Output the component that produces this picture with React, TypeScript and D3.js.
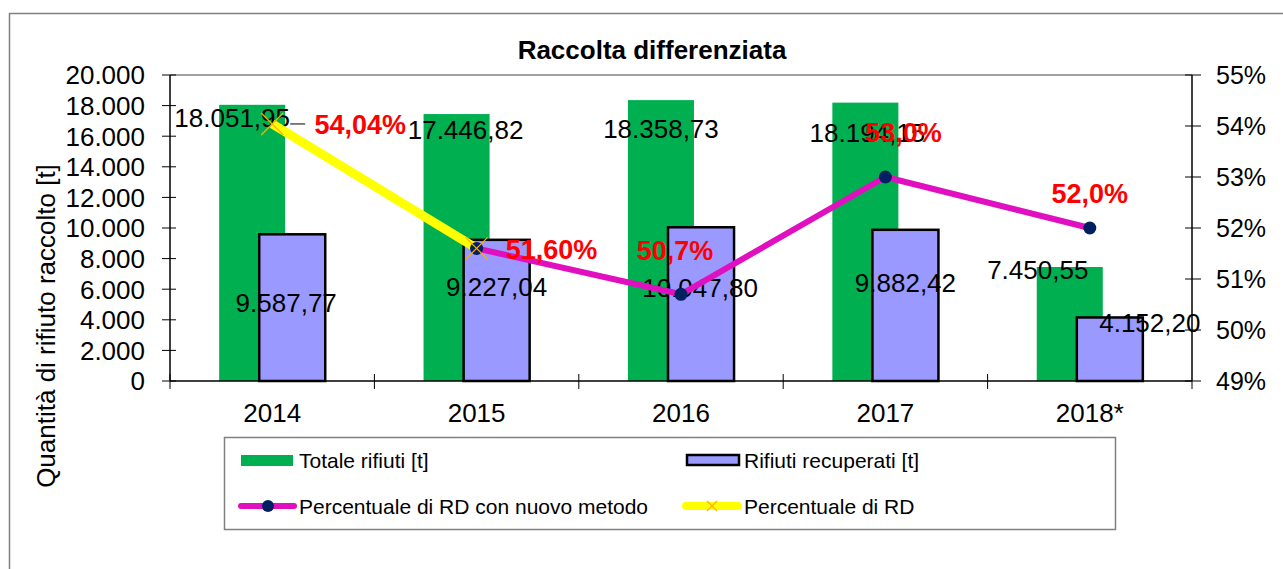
import React from 'react';
import * as d3 from 'd3';

// dati
const years = ['2014', '2015', '2016', '2017', '2018*'];
const totaleRifiuti = [18051.95, 17446.82, 18358.73, 18194.15, 7450.55];
const rifiutiRecuperati = [9587.77, 9227.04, 10047.8, 9882.42, 4152.2];
const percNuovoMetodo = [null, 51.6, 50.7, 53.0, 52.0];
const percRD = [54.04, 51.6, null, null, null];
const percLabels = ['54,04%', '51,60%', '50,7%', '53,0%', '52,0%'];
const leftTicks = [0, 2000, 4000, 6000, 8000, 10000, 12000, 14000, 16000, 18000, 20000];
const rightTicks = [49, 50, 51, 52, 53, 54, 55];

// spostamenti manuali delle etichette (come nell'originale)
const totNudge = [[-20, 13], [9, 16], [0, 29], [2, 30], [-32, 3]];
const recNudge = [[-6, 68], [0, 47], [-1, 60], [0, 53], [40, 5]];
const pctNudge = [[88, 0], [75, 1], [-6, -44], [18, -45], [0, -35]];

const it = d3.formatLocale({ decimal: ',', thousands: '.', grouping: [3], currency: ['', '€'] });
const fmtTick = it.format(',.0f');
const fmtVal = it.format(',.2f');

const FONT = '"Liberation Sans", Arial, sans-serif';
const GREEN = '#00B050';
const PURPLE = '#9999FF';
const MAGENTA = '#E010C0';
const NAVY = '#002060';
const YELLOW = '#FFFF00';
const ORANGE = '#FFB000';

const App = () => {
  const W = 1283, H = 569;
  const left = 170, right = 1192, top = 75, bottom = 381;

  const x = d3.scaleBand().domain(years).range([left, right]);
  const bw = x.bandwidth();
  const y = d3.scaleLinear().domain([0, 20000]).range([bottom, top]);
  const yR = d3.scaleLinear().domain([49, 55]).range([bottom, top]);

  const barW = bw * 0.323;
  const off = bw * 0.098;
  const cx = (i: number) => (x(years[i]) || 0) + bw / 2;

  const line = d3.line<[number, number | null]>()
    .defined(d => d[1] != null)
    .x(d => cx(d[0]))
    .y(d => yR(d[1] as number));

  const newPts = percNuovoMetodo.map((v, i) => [i, v] as [number, number | null]);
  const oldPts = percRD.map((v, i) => [i, v] as [number, number | null]);

  const xMark = (px: number, py: number, s: number, key: string) => (
    <g key={key} stroke={ORANGE} strokeWidth={1.2}>
      <line x1={px - s} y1={py - s} x2={px + s} y2={py + s} />
      <line x1={px - s} y1={py + s} x2={px + s} y2={py - s} />
    </g>
  );

  return (
    <div style={{ position: 'fixed', left: 0, top: 0 }}>
      <svg width={W} height={H} style={{ display: 'block', background: '#fff' }} fontFamily={FONT}>
        {/* cornice esterna */}
        <rect x={9.5} y={13.5} width={W + 20} height={H + 20} fill="none" stroke="#808080" strokeWidth={1.5} />

        <text x={652} y={59} textAnchor="middle" fontSize={26} fontWeight="bold">Raccolta differenziata</text>

        {/* barre */}
        {totaleRifiuti.map((v, i) => (
          <rect key={'g' + i} x={cx(i) - off - barW / 2} y={y(v)} width={barW} height={bottom - y(v)} fill={GREEN} />
        ))}
        {rifiutiRecuperati.map((v, i) => (
          <rect key={'p' + i} x={cx(i) + off - barW / 2} y={y(v)} width={barW} height={bottom - y(v)}
            fill={PURPLE} stroke="#000" strokeWidth={2.5} />
        ))}

        {/* assi */}
        <line x1={left} x2={right} y1={top} y2={top} stroke="#808080" strokeWidth={1.5} />
        <line x1={left} x2={left} y1={top} y2={bottom} stroke="#000" strokeWidth={1.5} />
        <line x1={right} x2={right} y1={top} y2={bottom} stroke="#000" strokeWidth={1.5} />
        <line x1={left} x2={right} y1={bottom} y2={bottom} stroke="#000" strokeWidth={1.5} />
        {leftTicks.map(t => (
          <g key={'lt' + t}>
            <line x1={left - 8} x2={left + 6} y1={y(t)} y2={y(t)} stroke="#000" />
            <text x={145} y={y(t)} dy="0.36em" textAnchor="end" fontSize={26}>{fmtTick(t)}</text>
          </g>
        ))}
        {rightTicks.map(t => (
          <g key={'rt' + t}>
            <line x1={right - 7} x2={right + 9} y1={yR(t)} y2={yR(t)} stroke="#000" />
            <text x={1216} y={yR(t)} dy="0.36em" fontSize={25}>{t + '%'}</text>
          </g>
        ))}
        {years.map((yr, i) => (
          <g key={'xt' + yr}>
            <line x1={x(yr)} x2={x(yr)} y1={bottom - 7} y2={bottom + 8} stroke="#000" />
            <text x={cx(i)} y={413} dy="0.36em" textAnchor="middle" fontSize={26}>{yr}</text>
          </g>
        ))}
        <line x1={right} x2={right} y1={bottom} y2={bottom + 8} stroke="#000" />

        <text transform={`translate(46,326) rotate(-90)`} textAnchor="middle" dy="0.36em" fontSize={26}>
          Quantità di rifiuto raccolto [t]
        </text>

        {/* etichette barre */}
        {totaleRifiuti.map((v, i) => (
          <text key={'gl' + i} x={cx(i) - off + totNudge[i][0]} y={y(v) + totNudge[i][1]} dy="0.36em"
            textAnchor="middle" fontSize={26}>{fmtVal(v)}</text>
        ))}
        {rifiutiRecuperati.map((v, i) => (
          <text key={'pl' + i} x={cx(i) + off + recNudge[i][0]} y={y(v) + recNudge[i][1]} dy="0.36em"
            textAnchor="middle" fontSize={26}>{fmtVal(v)}</text>
        ))}

        {/* linee percentuali */}
        <path d={line(oldPts) || ''} fill="none" stroke={YELLOW} strokeWidth={9} strokeLinejoin="round" />
        <path d={line(newPts) || ''} fill="none" stroke={MAGENTA} strokeWidth={6} strokeLinejoin="round" />
        {newPts.filter(d => d[1] != null).map(d => (
          <circle key={'c' + d[0]} cx={cx(d[0])} cy={yR(d[1] as number)} r={6.5} fill={NAVY} />
        ))}
        {oldPts.filter(d => d[1] != null).map(d => xMark(cx(d[0]), yR(d[1] as number), 11, 'x' + d[0]))}
        <line x1={cx(0) + 18} x2={cx(0) + 33} y1={yR(percRD[0] as number)} y2={yR(percRD[0] as number)} stroke="#000" />

        {percLabels.map((lab, i) => {
          const v = (percNuovoMetodo[i] ?? percRD[i]) as number;
          return (
            <text key={'pc' + i} x={cx(i) + pctNudge[i][0]} y={yR(v) + pctNudge[i][1]} dy="0.36em"
              textAnchor="middle" fontSize={27} fontWeight="bold" fill="#FF0000">{lab}</text>
          );
        })}

        {/* legenda */}
        <rect x={224.5} y={437.5} width={891} height={92} fill="#fff" stroke="#808080" strokeWidth={1.5} />
        <rect x={241} y={455} width={52} height={11} fill={GREEN} />
        <text x={299} y={460} dy="0.36em" fontSize={21}>Totale rifiuti [t]</text>
        <rect x={687} y={455} width={52} height={10} fill={PURPLE} stroke="#000" strokeWidth={2.5} />
        <text x={744} y={460} dy="0.36em" fontSize={21}>Rifiuti recuperati [t]</text>
        <line x1={241} x2={294} y1={506} y2={506} stroke={MAGENTA} strokeWidth={6} strokeLinecap="round" />
        <circle cx={268} cy={506} r={6} fill={NAVY} />
        <text x={299} y={506} dy="0.36em" fontSize={21}>Percentuale di RD con nuovo metodo</text>
        <line x1={686} x2={738} y1={506} y2={506} stroke={YELLOW} strokeWidth={8} strokeLinecap="round" />
        {xMark(712, 506, 5, 'lx')}
        <text x={744} y={506} dy="0.36em" fontSize={21}>Percentuale di RD</text>
      </svg>
    </div>
  );
};

export default App;
